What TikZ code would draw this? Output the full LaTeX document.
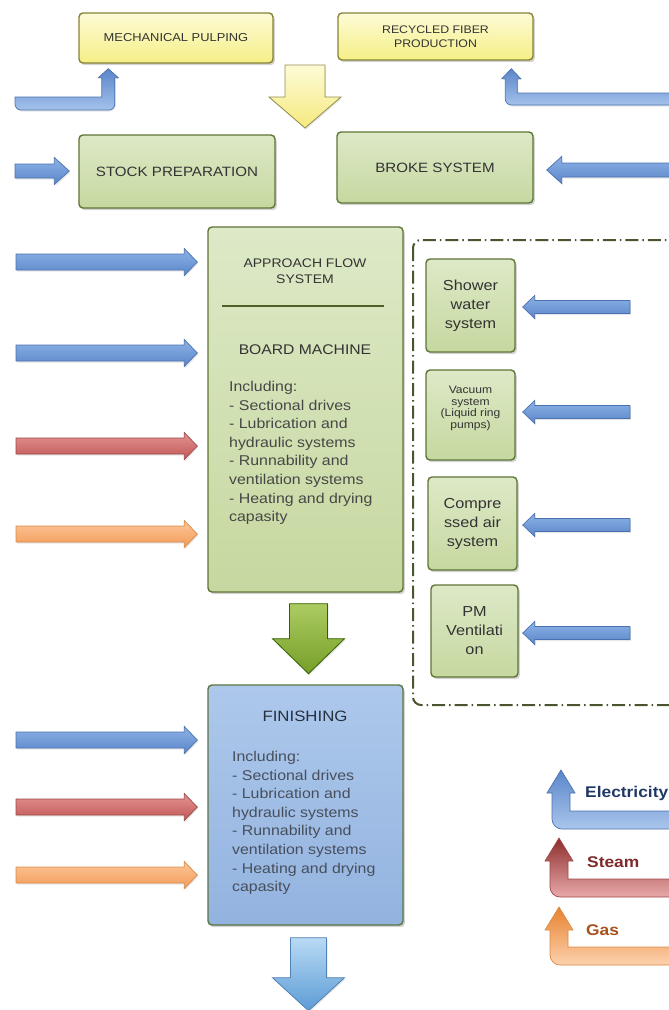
\documentclass[tikz,border=0pt]{standalone}
\usepackage{fontspec}
\setmainfont{Liberation Sans}[FakeStretch=1.12]
\usetikzlibrary{calc,shadows}

% box fills and outlines
\definecolor{ylwtop}{HTML}{FDFBD6}
\definecolor{ylwbot}{HTML}{F5EF86}
\definecolor{ylwline}{HTML}{858236}
\definecolor{grntop}{HTML}{DDE9C7}
\definecolor{grnbot}{HTML}{C6D8A0}
\definecolor{grnline}{HTML}{5E7535}
\definecolor{fintop}{HTML}{ADC8EB}
\definecolor{finbot}{HTML}{93B3DF}
\definecolor{finline}{HTML}{5A7442}
\definecolor{dashline}{HTML}{4A5530}
\definecolor{divline}{HTML}{4E5F2A}
% arrow colours
\definecolor{blutop}{HTML}{8DB2E6}
\definecolor{blubot}{HTML}{5A86C9}
\definecolor{bluline}{HTML}{4A72B0}
\definecolor{redtop}{HTML}{E39393}
\definecolor{redbot}{HTML}{C25757}
\definecolor{redline}{HTML}{A04848}
\definecolor{orgtop}{HTML}{FCC699}
\definecolor{orgbot}{HTML}{F29B58}
\definecolor{orgline}{HTML}{D98A45}
% text colours
\definecolor{txt}{HTML}{333333}
\definecolor{fintxt}{HTML}{27303F}
\definecolor{elecTxt}{HTML}{1F3864}
\definecolor{steamTxt}{HTML}{7F2A2A}
\definecolor{gasTxt}{HTML}{A4521F}

% straight block arrow: style, tail, tip, half shaft, half head, head length
\newcommand\fatarrow[6]{%
  \coordinate (fa-s) at (#2);
  \coordinate (fa-t) at (#3);
  \coordinate (fa-h) at ($(fa-t)!#6!(fa-s)$);
  \path[#1] ($(fa-s)!#4!90:(fa-t)$) -- ($(fa-h)!#4!-90:(fa-s)$)
    -- ($(fa-h)!#5!-90:(fa-s)$) -- (fa-t) -- ($(fa-h)!#5!90:(fa-s)$)
    -- ($(fa-h)!#4!90:(fa-s)$) -- ($(fa-s)!#4!-90:(fa-t)$) -- cycle;
}
% bent block arrow (horizontal, then up): style, tail, tip,
% half shaft, half head, head length, corner radius, side (1 = tip right of tail)
\newcommand\bentarrow[8]{%
  \path[#1] let \p1=(#2), \p2=(#3) in
    ({\x1},{\y1+#4}) -- ({\x2-(#8)*#4},{\y1+#4}) -- ({\x2-(#8)*#4},{\y2-#6})
    -- ({\x2-(#8)*#5},{\y2-#6}) -- (\p2) -- ({\x2+(#8)*#5},{\y2-#6})
    -- ({\x2+(#8)*#4},{\y2-#6}) [rounded corners=#7] -- ({\x2+(#8)*#4},{\y1-#4})
    -- ({\x1},{\y1-#4}) [sharp corners] -- cycle;
}

\begin{document}
\begin{tikzpicture}[x=1pt,y=-1pt,
  box/.style={line width=1.4pt, rounded corners=4pt, inner sep=0pt,
    align=center, text=txt,
    drop shadow={opacity=0.35,shadow xshift=1.8pt,shadow yshift=-2.2pt}},
  ylwbox/.style={box, draw=ylwline, top color=ylwtop, bottom color=ylwbot},
  grnbox/.style={box, draw=grnline, top color=grntop, bottom color=grnbot},
  finbox/.style={box, draw=finline, top color=fintop, bottom color=finbot},
  shade arrow/.style={line width=0.7pt,
    drop shadow={opacity=0.2,shadow xshift=1pt,shadow yshift=-1.5pt}},
  bluearrow/.style={shade arrow, draw=bluline, top color=blutop, bottom color=blubot},
  redarrow/.style={shade arrow, draw=redline, top color=redtop, bottom color=redbot},
  orgarrow/.style={shade arrow, draw=orgline, top color=orgtop, bottom color=orgbot},
  bluebent/.style={shade arrow, draw=bluline, top color=blubot, bottom color=blutop!80!white},
  bodytext/.style={font=\fontsize{14.2}{18.6}\selectfont, align=left, inner sep=0pt},
  legendtext/.style={font=\fontsize{15.5}{17}\selectfont\bfseries, inner sep=0pt, anchor=west}
]
\useasboundingbox (0,0) rectangle (669,1010);

% ---------- raw material supply ----------
\node[ylwbox, minimum width=194pt, minimum height=50pt,
  font=\fontsize{11.5}{13}\selectfont] (mp) at (176,38) {MECHANICAL PULPING};
\node[ylwbox, minimum width=195pt, minimum height=47pt,
  font=\fontsize{11}{14}\selectfont] (rf) at (435.5,36.5) {RECYCLED FIBER\\PRODUCTION};

\coordinate (mpin) at (15,103.5);
\coordinate (rfin) at (700,99);
\bentarrow{bluebent}{mpin}{$(mp.south west)+(30,5)$}{6.5pt}{10pt}{9pt}{6pt}{1}
\bentarrow{bluebent}{rfin}{$(rf.south west)+(174,8)$}{6pt}{9.5pt}{10pt}{6pt}{-1}

% yellow flow arrow
\coordinate (ytop) at (305,65);
\coordinate (ytip) at (305,128);
\fatarrow{line width=0.8pt, draw=ylwline!90!white, top color=ylwtop, bottom color=ylwbot!95!orange,
  drop shadow={opacity=0.2,shadow xshift=1pt,shadow yshift=-1.5pt}}{ytop}{ytip}{20pt}{36pt}{31pt}

% ---------- stock preparation and broke ----------
\node[grnbox, minimum width=196pt, minimum height=73pt,
  font=\fontsize{13.5}{15}\selectfont] (sp) at (177,171.5) {STOCK PREPARATION};
\node[grnbox, minimum width=196pt, minimum height=71pt,
  font=\fontsize{13.5}{15}\selectfont] (bs) at (435,167.5) {BROKE SYSTEM};

\coordinate (spin) at (15,171);
\coordinate (bsin) at (700,170);
\fatarrow{bluearrow}{spin}{$(sp.west)+(-9,-0.5)$}{7pt}{13.5pt}{15pt}
\fatarrow{bluearrow}{bsin}{$(bs.east)+(13,2.5)$}{7pt}{13.5pt}{15pt}

% ---------- approach flow / board machine ----------
\node[grnbox, minimum width=195pt, minimum height=365pt] (bm) at (305.5,409.5) {};
\node[font=\fontsize{12.5}{16}\selectfont, align=center, text=txt, inner sep=0pt]
  (afs) at (305,271) {APPROACH FLOW\\SYSTEM};
\draw[line width=2.2pt, draw=divline] ($(bm.north west)+(15,80)$) -- ($(bm.north east)+(-20,80)$);
\node[font=\fontsize{14}{16}\selectfont, text=txt, inner sep=0pt] (bmt) at (305,350) {BOARD MACHINE};
\node[bodytext, text=txt!90!white, anchor=north west] (bmbody) at (229,381)
  {Including:\\- Sectional drives\\- Lubrication and\\hydraulic systems\\- Runnability and\\ventilation systems\\- Heating and drying\\capasity};

\coordinate (bin1) at (16,262);
\coordinate (bin2) at (16,353);
\coordinate (bin3) at (16,446);
\coordinate (bin4) at (16,534);
\fatarrow{bluearrow}{bin1}{$(bm.west |- bin1)+(-10,0)$}{8pt}{13.5pt}{13pt}
\fatarrow{bluearrow}{bin2}{$(bm.west |- bin2)+(-10,0)$}{8pt}{13.5pt}{13pt}
\fatarrow{redarrow}{bin3}{$(bm.west |- bin3)+(-10,0)$}{8pt}{13.5pt}{13pt}
\fatarrow{orgarrow}{bin4}{$(bm.west |- bin4)+(-10,0)$}{8pt}{13.5pt}{13pt}

% ---------- auxiliary systems ----------
\draw[draw=dashline, line width=2pt, rounded corners=8pt,
  dash pattern=on 13pt off 4pt on 1.5pt off 4pt] (413,240) rectangle (700,705);

\node[grnbox, minimum width=89pt, minimum height=93pt,
  font=\fontsize{14.5}{19}\selectfont] (sw) at (470.5,305.5) {Shower\\water\\system};
\node[grnbox, minimum width=89pt, minimum height=90pt,
  font=\fontsize{10.8}{11.7}\selectfont] (vs) at (470.5,415) {Vacuum\\system\\(Liquid ring\\pumps)\\[4pt]};
\node[grnbox, minimum width=89pt, minimum height=93pt,
  font=\fontsize{14.5}{19}\selectfont] (ca) at (472.5,523.5) {Compre\\ssed air\\system};
\node[grnbox, minimum width=87pt, minimum height=92pt,
  font=\fontsize{14.5}{19}\selectfont] (pmv) at (474.5,631) {PM\\Ventilati\\on};

\coordinate (ain1) at (630,307);
\coordinate (ain2) at (630,412);
\coordinate (ain3) at (630,525);
\coordinate (ain4) at (630,633);
\fatarrow{bluearrow}{ain1}{$(sw.east |- ain1)+(7,0)$}{6.5pt}{11.5pt}{12pt}
\fatarrow{bluearrow}{ain2}{$(vs.east |- ain2)+(7,0)$}{6.5pt}{11.5pt}{12pt}
\fatarrow{bluearrow}{ain3}{$(ca.east |- ain3)+(5,0)$}{6.5pt}{11.5pt}{12pt}
\fatarrow{bluearrow}{ain4}{$(pmv.east |- ain4)+(4,0)$}{6.5pt}{11.5pt}{12pt}

% green flow arrow
\fatarrow{line width=0.8pt, draw=green!30!black!60!olive, top color={rgb,255:red,172;green,204;blue,98},
  bottom color={rgb,255:red,118;green,158;blue,40},
  drop shadow={opacity=0.2,shadow xshift=1pt,shadow yshift=-1.5pt}}
  {$(bm.south)+(3,11)$}{$(bm.south)+(3,81)$}{19pt}{36pt}{35pt}

% ---------- finishing ----------
\node[finbox, minimum width=195pt, minimum height=240pt] (fin) at (305.5,805) {};
\node[font=\fontsize{15}{17}\selectfont, text=fintxt, inner sep=0pt] (fint) at (305,716) {FINISHING};
\node[bodytext, text=fintxt!85!white, anchor=north west] (finbody) at (232,751)
  {Including:\\- Sectional drives\\- Lubrication and\\hydraulic systems\\- Runnability and\\ventilation systems\\- Heating and drying\\capasity};

\coordinate (fin1) at (16,740);
\coordinate (fin2) at (16,807);
\coordinate (fin3) at (16,875);
\fatarrow{bluearrow}{fin1}{$(fin.west |- fin1)+(-10,0)$}{8pt}{13.5pt}{13pt}
\fatarrow{redarrow}{fin2}{$(fin.west |- fin2)+(-10,0)$}{8pt}{13.5pt}{13pt}
\fatarrow{orgarrow}{fin3}{$(fin.west |- fin3)+(-10,0)$}{8pt}{13.5pt}{13pt}

% blue flow arrow out
\fatarrow{line width=0.8pt, draw={rgb,255:red,80;green,130;blue,180},
  top color={rgb,255:red,185;green,218;blue,244}, bottom color={rgb,255:red,92;green,156;blue,214},
  drop shadow={opacity=0.2,shadow xshift=1pt,shadow yshift=-1.5pt}}
  {$(fin.south)+(3,12)$}{$(fin.south)+(3,85)$}{18pt}{36pt}{33pt}

% ---------- legend ----------
\node[legendtext, text=elecTxt] (lelec) at (585,793) {Electricity};
\node[legendtext, text=steamTxt] (lsteam) at (587,862) {Steam};
\node[legendtext, text=gasTxt] (lgas) at (586,930) {Gas};

\coordinate (le1) at (700,820);
\coordinate (le2) at (700,888);
\coordinate (le3) at (700,956);
\bentarrow{line width=0.7pt, draw=bluline, top color=blubot, bottom color=blutop!75!white}
  {le1}{$(lelec.west)+(-24,-23)$}{9pt}{14pt}{23pt}{10pt}{-1}
\bentarrow{line width=0.7pt, draw=redline, top color={rgb,255:red,140;green,45;blue,45}, bottom color=redtop!80!white}
  {le2}{$(lsteam.west)+(-28,-24)$}{9pt}{14pt}{23pt}{10pt}{-1}
\bentarrow{line width=0.7pt, draw=orgline, top color={rgb,255:red,232;green,130;blue,46}, bottom color=orgtop!80!white}
  {le3}{$(lgas.west)+(-27,-23)$}{9pt}{14pt}{23pt}{10pt}{-1}

\end{tikzpicture}
\end{document}
